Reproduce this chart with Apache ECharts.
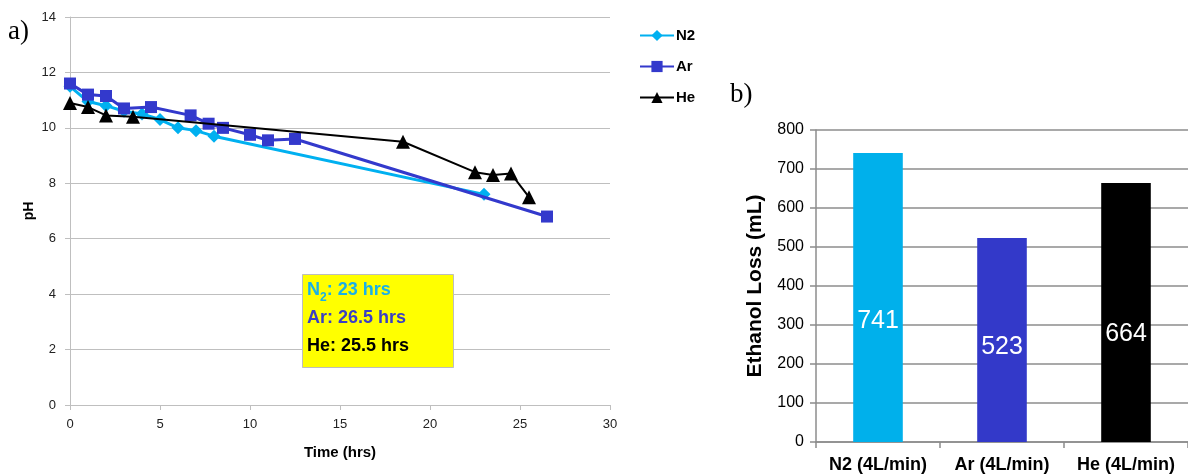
<!DOCTYPE html>
<html><head><meta charset="utf-8">
<script src="https://cdn.jsdelivr.net/npm/echarts@6/dist/echarts.min.js"></script>
<style>html,body{margin:0;padding:0;background:#fff}#c{width:1188px;height:476px}</style>
</head><body><div id="c"></div>
<script>
// Panel a) pH vs time
const n2Data = [[0,11.5],[1,10.95],[2,10.8],[3,10.6],[4,10.5],[5,10.3],[6,10.0],[7,9.9],[8,9.7],[23,7.6]];
const arData = [[0,11.6],[1,11.2],[2,11.15],[3,10.7],[4.5,10.75],[6.7,10.45],[7.7,10.15],[8.5,10.0],[10,9.75],[11,9.55],[12.5,9.6],[26.5,6.8]];
const heData = [[0,10.9],[1,10.75],[2,10.45],[3.5,10.4],[18.5,9.5],[22.5,8.4],[23.5,8.3],[24.5,8.35],[25.5,7.5]];
const seriesNames = ['N2','Ar','He'];
// Panel b) ethanol loss
const barCategories = ['N2 (4L/min)','Ar (4L/min)','He (4L/min)'];
const barValues = [741, 523, 664];
// Annotation text
const durations = ['23 hrs','26.5 hrs','25.5 hrs'];

const cN2 = '#00b0f0', cAr = '#3339cc', cHe = '#000000';
const barColors = ['#00b0eb', '#3339c9', '#000000'];
const barLabelOffsets = [[0,24],[0,7],[0,22]];

const chart = echarts.init(document.getElementById('c'), null, {renderer:'canvas'});
const font = 'Liberation Sans, Arial, sans-serif';
chart.setOption({
  animation:false,
  textStyle:{fontFamily:font},
  grid:[
    {left:70, top:17, width:540, height:388},
    {left:816, top:130, width:372, height:312}
  ],
  legend:{
    orient:'vertical', left:634, top:23, itemGap:16, itemWidth:34, itemHeight:14,
    data:seriesNames,
    textStyle:{fontSize:15, fontWeight:'bold', color:'#000', fontFamily:font, padding:[0,0,0,-3]}
  },
  xAxis:[
    {gridIndex:0, type:'value', min:0, max:30, interval:5,
     name:'Time (hrs)', nameLocation:'middle', nameGap:40,
     nameTextStyle:{fontSize:15, fontWeight:'bold', color:'#000'},
     axisLine:{lineStyle:{color:'#bfbfbf'}}, axisTick:{show:true, length:5, lineStyle:{color:'#bfbfbf'}},
     axisLabel:{fontSize:13, color:'#222', margin:13}, splitLine:{show:false}},
    {gridIndex:1, type:'category', data:barCategories,
     axisLine:{lineStyle:{color:'#8c8c8c', width:1.5}}, axisTick:{show:true, length:6, lineStyle:{color:'#8c8c8c', width:1.5}},
     axisLabel:{fontSize:18, fontWeight:'bold', color:'#000', margin:14, interval:0, hideOverlap:false}}
  ],
  yAxis:[
    {gridIndex:0, type:'value', min:0, max:14, interval:2,
     name:'pH', nameLocation:'middle', nameGap:34, nameRotate:90,
     nameTextStyle:{fontSize:14, fontWeight:'bold', color:'#000'},
     axisLine:{show:true, lineStyle:{color:'#bfbfbf'}}, axisTick:{show:true, length:5, lineStyle:{color:'#bfbfbf'}},
     axisLabel:{fontSize:13, color:'#222', margin:14},
     splitLine:{lineStyle:{color:'#bfbfbf'}}},
    {gridIndex:1, type:'value', min:0, max:800, interval:100,
     name:'Ethanol Loss (mL)', nameLocation:'middle', nameGap:50, nameRotate:90,
     nameTextStyle:{fontSize:21, fontWeight:'bold', color:'#000'},
     axisLine:{show:true, lineStyle:{color:'#8c8c8c', width:1.5}}, axisTick:{show:true, length:6, lineStyle:{color:'#8c8c8c', width:1.5}},
     axisLabel:{fontSize:16, color:'#000', margin:12},
     splitLine:{lineStyle:{color:'#8c8c8c', width:1.5}}}
  ],
  series:[
    {name:'N2', type:'line', xAxisIndex:0, yAxisIndex:0, data:n2Data, symbol:'diamond', symbolSize:13,
     lineStyle:{color:cN2, width:3}, itemStyle:{color:cN2}, z:3},
    {name:'Ar', type:'line', xAxisIndex:0, yAxisIndex:0, data:arData, symbol:'rect', symbolSize:12,
     lineStyle:{color:cAr, width:3}, itemStyle:{color:cAr}, z:4},
    {name:'He', type:'line', xAxisIndex:0, yAxisIndex:0, data:heData, symbol:'triangle', symbolSize:14,
     lineStyle:{color:cHe, width:2}, itemStyle:{color:cHe}, z:5},
    {type:'bar', xAxisIndex:1, yAxisIndex:1, barWidth:'40%',
     data:barValues.map((v,i)=>({value:v, itemStyle:{color:barColors[i]},
        label:{offset:barLabelOffsets[i]}})),
     label:{show:true, position:'inside', color:'#fff', fontSize:25, fontFamily:font}}
  ],
  graphic:[
    {type:'text', left:8, top:18, style:{text:'a)', font:'27px "Liberation Serif", "Times New Roman", serif', fill:'#000'}},
    {type:'text', left:730, top:81, style:{text:'b)', font:'27px "Liberation Serif", "Times New Roman", serif', fill:'#000'}},
    {type:'rect', left:302, top:274, shape:{width:151, height:93}, style:{fill:'#ffff00', stroke:'#bdbdbd', lineWidth:1}, z:10},
    {type:'text', left:307, top:281, z:11, style:{
      text:'{n|N}{s|2}{n|: '+durations[0]+'}\n{a|Ar: '+durations[1]+'}\n{h|He: '+durations[2]+'}',
      rich:{
        n:{fontSize:18, fontWeight:'bold', fill:'#1ab0e8', fontFamily:font, lineHeight:28},
        s:{fontSize:12, fontWeight:'bold', fill:'#1ab0e8', fontFamily:font, verticalAlign:'bottom', padding:[9,0,0,0], lineHeight:28},
        a:{fontSize:18, fontWeight:'bold', fill:'#3a3fc4', fontFamily:font, lineHeight:28},
        h:{fontSize:18, fontWeight:'bold', fill:'#000', fontFamily:font, lineHeight:28}
      }}}
  ]
});
</script></body></html>
